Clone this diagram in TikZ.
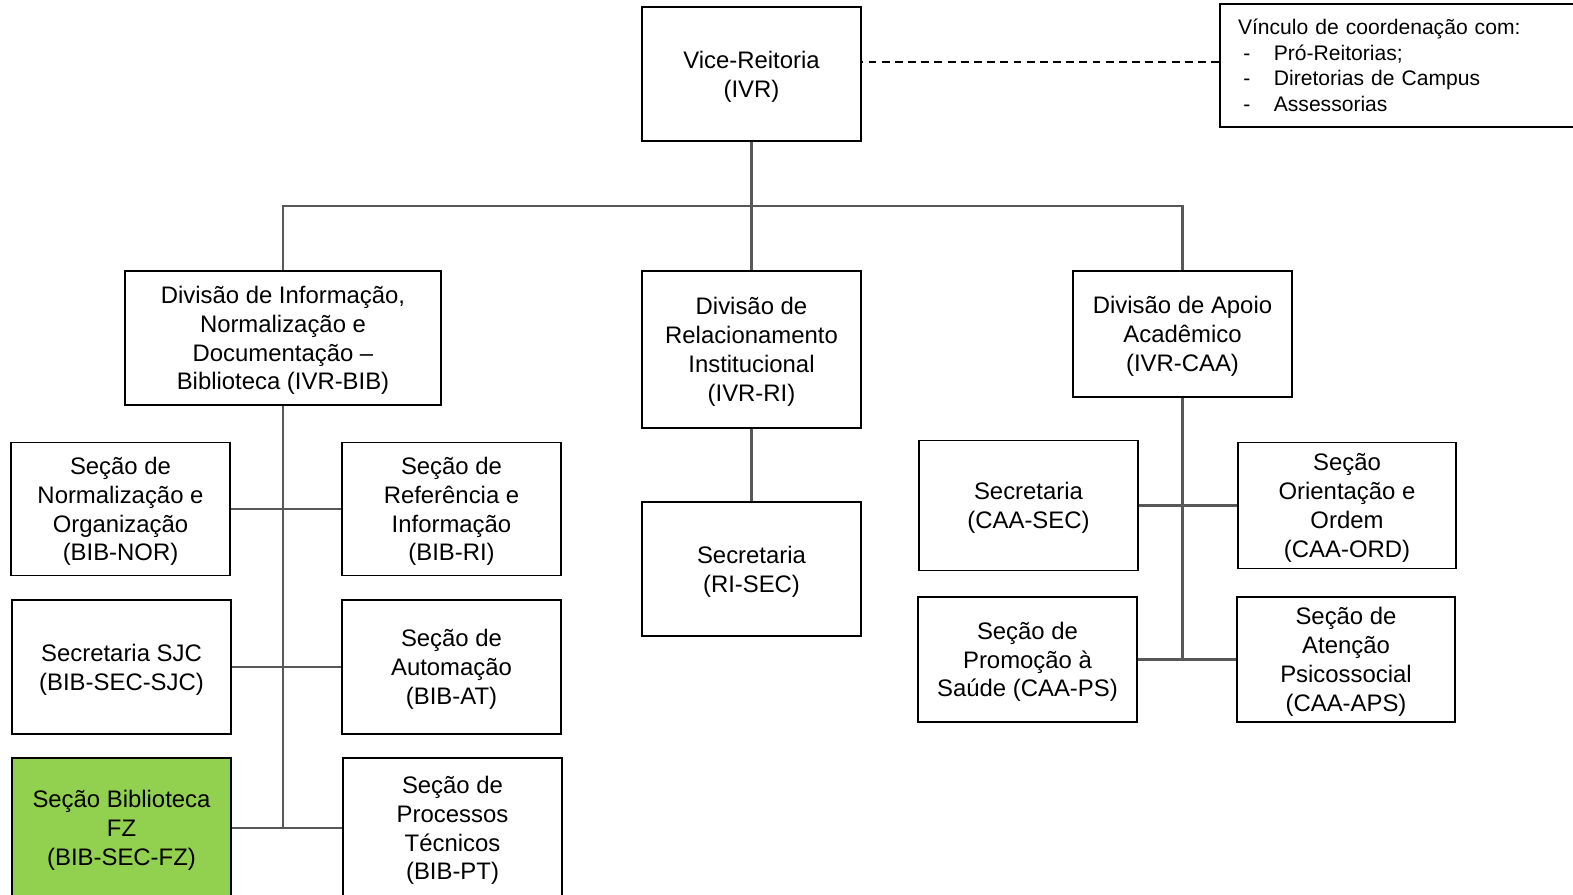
\documentclass[tikz,border=0pt]{standalone}
\usepackage{fontspec}
\setmainfont{Liberation Sans}
\definecolor{conngray}{HTML}{585858}
\definecolor{fzgreen}{HTML}{92D050}
\begin{document}
\begin{tikzpicture}[x=0.02cm,y=-0.02cm,
    box/.style={draw,line width=1.1pt,align=center,inner sep=0pt,text depth=-0.6pt,
      minimum width=4.38cm,font=\fontsize{13.6}{16.4}\selectfont},
    link/.style={conngray,line width=1.25pt},
    dashline/.style={line width=1.1pt,dash pattern=on 4.5pt off 3pt}]
  \useasboundingbox (0,0) rectangle (1573,894);
  % top
  \node[box,minimum height=2.68cm] (ivr) at (751.5,74) {Vice-Reitoria\\(IVR)};
  \node[draw,line width=1.1pt,align=left,text width=6.48cm,inner xsep=0.36cm,
    minimum height=2.46cm,font=\fontsize{12}{14.5}\selectfont] (vinc) at (1400,65.5)
    {V\'inculo de coordena\c{c}\~ao com:\\
     \makebox[20.4pt][l]{\hspace{3pt}-}Pr\'o-Reitorias;\\
     \makebox[20.4pt][l]{\hspace{3pt}-}Diretorias de Campus\\
     \makebox[20.4pt][l]{\hspace{3pt}-}Assessorias};
  % divisoes
  \node[box,minimum width=6.32cm,minimum height=2.68cm] (bib) at (283,338)
    {Divis\~ao de Informa\c{c}\~ao,\\Normaliza\c{c}\~ao e\\Documenta\c{c}\~ao --\\Biblioteca (IVR-BIB)};
  \node[box,minimum height=3.14cm] (ri) at (751.5,349.5)
    {Divis\~ao de\\Relacionamento\\Institucional\\(IVR-RI)};
  \node[box,minimum height=2.52cm] (caa) at (1182.5,334)
    {Divis\~ao de Apoio\\Acad\^emico\\(IVR-CAA)};
  % secoes biblioteca
  \node[box,minimum height=2.66cm] (nor) at (120.5,509) {Se\c{c}\~ao de\\Normaliza\c{c}\~ao e\\Organiza\c{c}\~ao\\(BIB-NOR)};
  \node[box,minimum height=2.66cm] (rinf) at (451.5,509) {Se\c{c}\~ao de\\Refer\^encia e\\Informa\c{c}\~ao\\(BIB-RI)};
  \node[box,minimum height=2.68cm] (sjc) at (121.5,667) {Secretaria SJC\\(BIB-SEC-SJC)};
  \node[box,minimum height=2.68cm] (at) at (451.5,667) {Se\c{c}\~ao de\\Automa\c{c}\~ao\\(BIB-AT)};
  \node[box,fill=fzgreen,minimum height=2.8cm] (fz) at (121.5,828) {Se\c{c}\~ao Biblioteca\\FZ\\(BIB-SEC-FZ)};
  \node[box,minimum height=2.8cm] (pt) at (452.5,828) {Se\c{c}\~ao de\\Processos\\T\'ecnicos\\(BIB-PT)};
  % secretaria ri
  \node[box,minimum height=2.68cm] (risec) at (751.5,569) {Secretaria\\(RI-SEC)};
  % secoes caa
  \node[box,minimum height=2.6cm] (caasec) at (1028.5,505.5) {Secretaria\\(CAA-SEC)};
  \node[box,minimum width=4.36cm,minimum height=2.52cm] (ord) at (1347,505.5) {Se\c{c}\~ao\\Orienta\c{c}\~ao e\\Ordem\\(CAA-ORD)};
  \node[box,minimum height=2.5cm] (ps) at (1027.5,659.5) {Se\c{c}\~ao de\\Promo\c{c}\~ao \`a\\Sa\'ude (CAA-PS)};
  \node[box,minimum width=4.36cm,minimum height=2.5cm] (aps) at (1346,659.5) {Se\c{c}\~ao de\\Aten\c{c}\~ao\\Psicossocial\\(CAA-APS)};

  % ligacoes
  \coordinate (hub) at (751.5,206);
  \coordinate (dashend) at ([yshift=0.07cm]vinc.west);
  \draw[link] (ivr.south) -- (ri.north);
  \draw[link] (bib.north) |- (hub) -| (caa.north);
  \draw[dashline] (dashend) -- (dashend -| ivr.east);
  \draw[link] (bib.south) -- (bib.south |- fz.east);
  \draw[link] (nor.east) -- (rinf.west);
  \draw[link] (sjc.east) -- (at.west);
  \draw[link] (fz.east) -- (pt.west);
  \draw[link] (ri.south) -- (risec.north);
  \draw[link] (caa.south) -- (caa.south |- ps.east);
  \draw[link] (caasec.east) -- (ord.west);
  \draw[link] (ps.east) -- (aps.west);
\end{tikzpicture}
\end{document}
